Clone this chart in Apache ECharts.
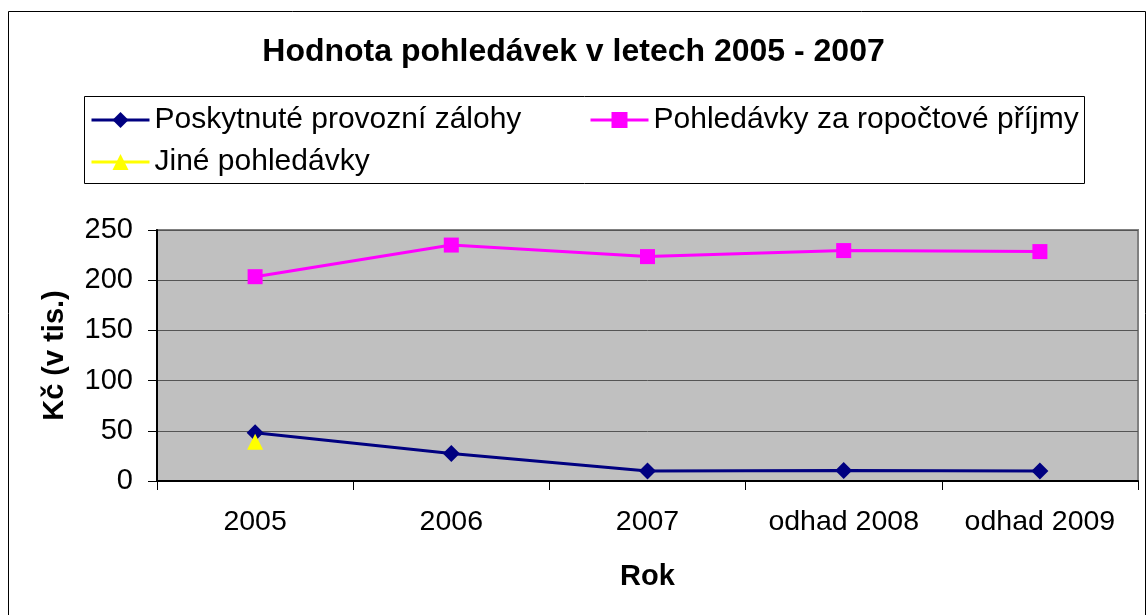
<!DOCTYPE html>
<html>
<head>
<meta charset="utf-8">
<script src="https://cdn.jsdelivr.net/npm/echarts@6/dist/echarts.min.js"></script>
<style>
html,body{margin:0;padding:0;background:#fff;}
#chart{width:1147px;height:615px;}
</style>
</head>
<body>
<div id="chart"></div>
<script>
const categories = ['2005', '2006', '2007', 'odhad 2008', 'odhad 2009'];
const seriesNames = ['Poskytnuté provozní zálohy', 'Pohledávky za ropočtové příjmy', 'Jiné pohledávky'];
const zalohy = [48, 27.5, 10, 10.5, 10];
const prijmy = [203.5, 235, 223.5, 229.5, 228.5];
const jine = [39, null, null, null, null];
const yTicks = { min: 0, max: 250, interval: 50 };

const FONT = "'Liberation Sans', Arial, sans-serif";
const chart = echarts.init(document.getElementById('chart'), null, { renderer: 'canvas' });

const legendText = { fontFamily: FONT, fontSize: 30, color: '#000' };
const legendBase = { itemWidth: 58, itemHeight: 20, itemGap: 0, textStyle: legendText, padding: 0, lineStyle: { width: 3 } };

chart.setOption({
  animation: false,
  backgroundColor: '#fff',
  title: {
    text: 'Hodnota pohledávek v letech 2005 - 2007',
    left: 'center',
    top: 31,
    textStyle: { fontFamily: FONT, fontSize: 32, fontWeight: 'bold', color: '#000' }
  },
  graphic: [
    { type: 'rect', shape: { x: 8.5, y: 11.5, width: 1137, height: 610 }, style: { fill: 'none', stroke: '#000', lineWidth: 1 }, silent: true, z: -10 },
    { type: 'rect', shape: { x: 84.5, y: 96.5, width: 1000, height: 87 }, style: { fill: 'none', stroke: '#000', lineWidth: 1 }, silent: true }
  ],
  legend: [
    Object.assign({ data: [seriesNames[0]], left: 90, top: 105 }, legendBase),
    Object.assign({ data: [seriesNames[1]], left: 589, top: 105 }, legendBase),
    Object.assign({ data: [seriesNames[2]], left: 90, top: 147 }, legendBase)
  ],
  grid: {
    left: 157, right: 9, top: 230, bottom: 134,
    show: true, backgroundColor: '#C0C0C0', borderColor: '#808080', borderWidth: 2
  },
  xAxis: {
    type: 'category',
    data: categories,
    boundaryGap: true,
    name: 'Rok',
    nameLocation: 'middle',
    nameGap: 81,
    nameTextStyle: { fontFamily: FONT, fontSize: 29, fontWeight: 'bold', color: '#000' },
    axisLine: { show: true, lineStyle: { color: '#000', width: 2 } },
    axisTick: { show: true, alignWithLabel: false, length: 9, lineStyle: { color: '#000', width: 1 } },
    axisLabel: { fontFamily: FONT, fontSize: 28.5, color: '#000', margin: 27, interval: 0 },
    splitLine: { show: false }
  },
  yAxis: {
    type: 'value',
    min: yTicks.min, max: yTicks.max, interval: yTicks.interval,
    name: 'Kč (v tis.)',
    nameLocation: 'middle',
    nameRotate: 90,
    nameGap: 88,
    nameTextStyle: { fontFamily: FONT, fontSize: 29, fontWeight: 'bold', color: '#000' },
    axisLine: { show: true, lineStyle: { color: '#000', width: 2 } },
    axisTick: { show: true, length: 9, lineStyle: { color: '#000', width: 1 } },
    axisLabel: { fontFamily: FONT, fontSize: 29, color: '#000', margin: 24 },
    splitLine: { show: true, lineStyle: { color: '#555', width: 1 } }
  },
  series: [
    {
      name: seriesNames[0], type: 'line', data: zalohy,
      symbol: 'diamond', symbolSize: 17,
      lineStyle: { color: '#000080', width: 3 },
      itemStyle: { color: '#000080' }, z: 3
    },
    {
      name: seriesNames[1], type: 'line', data: prijmy,
      symbol: 'rect', symbolSize: 15,
      lineStyle: { color: '#FF00FF', width: 3 },
      itemStyle: { color: '#FF00FF' }, z: 3
    },
    {
      name: seriesNames[2], type: 'line', data: jine,
      symbol: 'triangle', symbolSize: 16,
      lineStyle: { color: '#FFFF00', width: 3 },
      itemStyle: { color: '#FFFF00' }, z: 4
    }
  ]
});
</script>
</body>
</html>
